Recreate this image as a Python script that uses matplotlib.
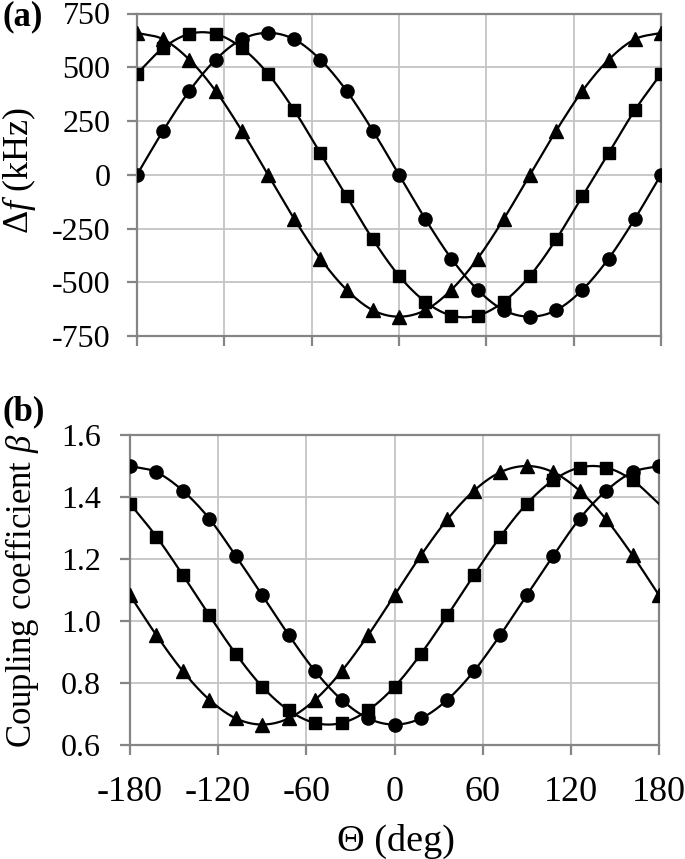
import numpy as np
import matplotlib
matplotlib.use("Agg")
import matplotlib.pyplot as plt

plt.rcParams['font.family'] = ['Liberation Serif', 'DejaVu Serif']
plt.rcParams['mathtext.fontset'] = 'custom'
plt.rcParams['mathtext.rm'] = 'Liberation Serif'
plt.rcParams['mathtext.it'] = 'Liberation Serif:italic'
plt.rcParams['axes.unicode_minus'] = False

theta = [-180, -162, -144, -126, -108, -90, -72, -54, -36, -18, 0,
         18, 36, 54, 72, 90, 108, 126, 144, 162, 180]

df_circle = [0, 205, 390, 535, 630, 660, 630, 535, 390, 205, 0,
             -205, -390, -535, -630, -660, -630, -535, -390, -205, 0]
df_square = [470, 590, 655, 655, 590, 470, 300, 100, -100, -300, -470,
             -590, -655, -655, -590, -470, -300, -100, 100, 300, 470]
df_triangle = [660, 630, 535, 390, 205, 0, -205, -390, -535, -630, -660,
               -630, -535, -390, -205, 0, 205, 390, 535, 630, 660]

beta_circle = [1.50, 1.48, 1.42, 1.33, 1.21, 1.083, 0.955, 0.838, 0.746, 0.686, 0.666,
               0.686, 0.746, 0.838, 0.955, 1.083, 1.21, 1.33, 1.42, 1.48, 1.50]
beta_square = [1.378, 1.272, 1.148, 1.018, 0.894, 0.788, 0.712, 0.671, 0.671, 0.712, 0.788,
               0.894, 1.018, 1.148, 1.272, 1.378, 1.454, 1.495, 1.495, 1.454, 1.378]
beta_triangle = [1.083, 0.954, 0.838, 0.746, 0.686, 0.666, 0.686, 0.746, 0.838, 0.954, 1.083,
                 1.212, 1.328, 1.42, 1.48, 1.50, 1.48, 1.42, 1.328, 1.212, 1.083]

xticks = [-180, -120, -60, 0, 60, 120, 180]


def smooth(x, y, n=20):
    P = np.column_stack([np.asarray(x, float), np.asarray(y, float)])
    P = np.vstack([2 * P[0] - P[1], P, 2 * P[-1] - P[-2]])
    t = np.linspace(0, 1, n, endpoint=False)[:, None]
    out = []
    for i in range(1, len(P) - 2):
        p0, p1, p2, p3 = P[i - 1], P[i], P[i + 1], P[i + 2]
        c = 0.5 * (2 * p1 + (-p0 + p2) * t + (2 * p0 - 5 * p1 + 4 * p2 - p3) * t ** 2
                   + (-p0 + 3 * p1 - 3 * p2 + p3) * t ** 3)
        out.append(c)
    out.append(P[-2][None, :])
    out = np.vstack(out)
    return out[:, 0], out[:, 1]


W, H = 685, 859
fig = plt.figure(figsize=(W / 100, H / 100), dpi=100)

ax1 = fig.add_axes([137 / W, 1 - 336 / H, (661 - 137) / W, (336 - 13.5) / H])
ax2 = fig.add_axes([130 / W, 1 - 745 / H, (659 - 130) / W, (745 - 435) / H])

spine_col = '#858585'
grid_col = '#c4c4c4'


def style(ax):
    ax.set_xlim(-180, 180)
    ax.set_xticks(xticks)
    ax.grid(True, color=grid_col, linewidth=1.3)
    ax.set_axisbelow(True)
    for s in ax.spines.values():
        s.set_color(spine_col)
        s.set_linewidth(1.6)
    ax.tick_params(axis='both', direction='out', length=7, width=1.6, color=spine_col)


series = [('o', 9.5, df_circle, beta_circle),
          ('s', 8.5, df_square, beta_square),
          ('^', 10.5, df_triangle, beta_triangle)]

for mk, ms, a, b in series:
    xs, ys = smooth(theta, a)
    ax1.plot(xs, ys, color='black', linewidth=1.6, zorder=3)
    ax1.plot(theta, a, linestyle='none', marker=mk, markersize=ms, color='black', zorder=4)
    xs, ys = smooth(theta, b)
    ax2.plot(xs, ys, color='black', linewidth=1.6, zorder=3)
    if mk == 's':
        ax2.plot(theta[:-1], b[:-1], linestyle='none', marker=mk, markersize=ms, color='black', zorder=4)
    else:
        ax2.plot(theta, b, linestyle='none', marker=mk, markersize=ms, color='black', zorder=4)

style(ax1)
ax1.set_ylim(-750, 750)
ax1.set_yticks([-750, -500, -250, 0, 250, 500, 750])
ax1.set_xticklabels([])
ax1.tick_params(axis='y', labelsize=23, pad=12)

style(ax2)
ax2.set_ylim(0.6, 1.6)
ax2.set_yticks([0.6, 0.8, 1.0, 1.2, 1.4, 1.6])
ax2.set_yticklabels(['0.6', '0.8', '1.0', '1.2', '1.4', '1.6'])
ax2.set_xticklabels([str(v) for v in xticks])
ax2.tick_params(axis='y', labelsize=23, pad=14)
ax2.tick_params(axis='x', labelsize=26, pad=15)

fig.text(19 / W, 1 - 171 / H, r'Δ$f$ (kHz)', rotation=90, ha='center', va='center', fontsize=26)
fig.text(22 / W, 1 - 591 / H, r'Coupling coefficient $\beta$', rotation=90, ha='center', va='center', fontsize=25)
fig.text(396 / W, 1 - 841 / H, 'Θ (deg)', ha='center', va='center', fontsize=27.5)
fig.text(3 / W, 1 - 17 / H, '(a)', ha='left', va='center', fontsize=25, fontweight='bold')
fig.text(3 / W, 1 - 412 / H, '(b)', ha='left', va='center', fontsize=25, fontweight='bold')

fig.savefig('out.png', dpi=100)
